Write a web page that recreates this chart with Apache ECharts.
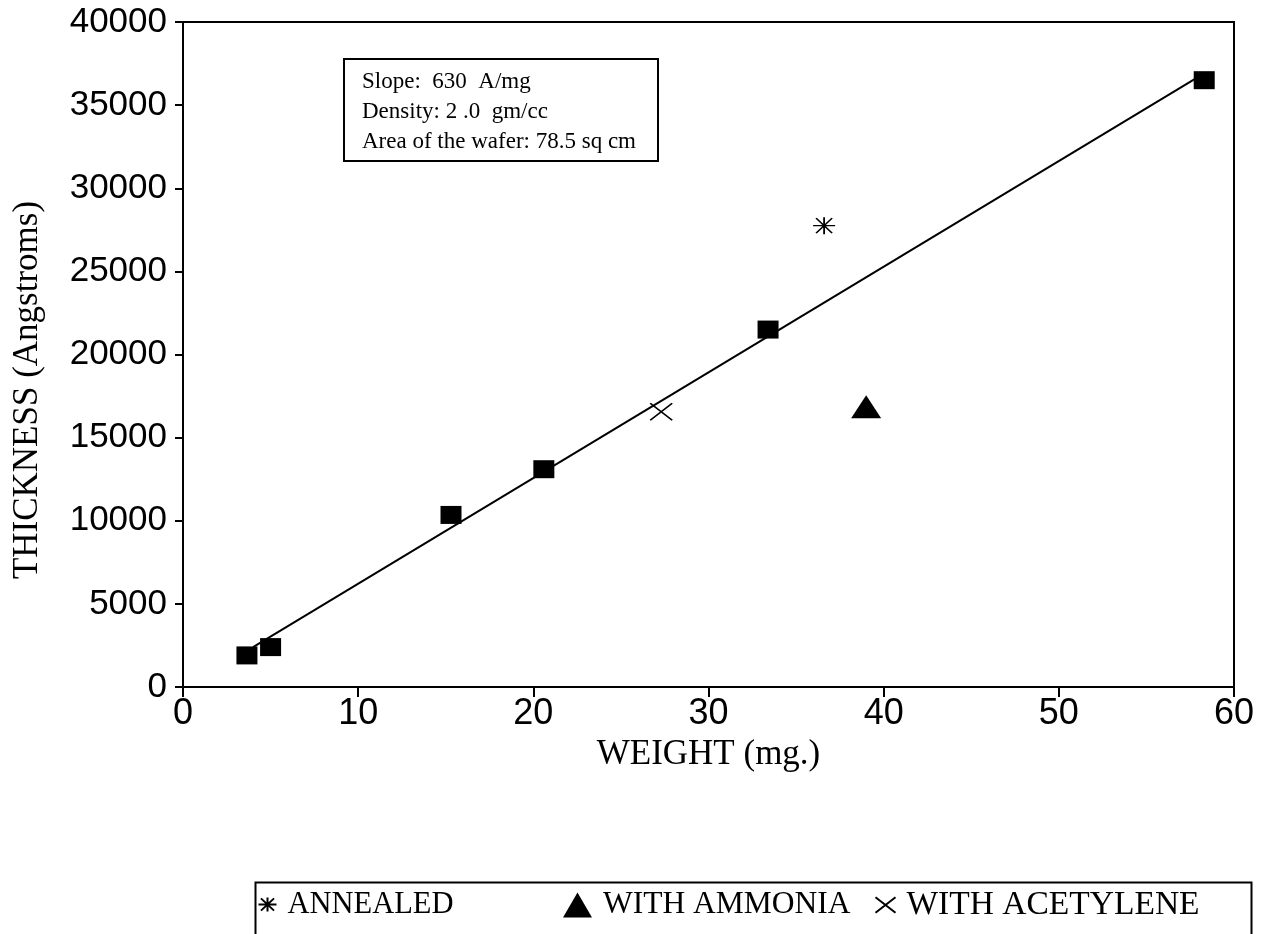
<!DOCTYPE html>
<html><head><meta charset="utf-8">
<script src="https://cdn.jsdelivr.net/npm/echarts@6/dist/echarts.min.js"></script>
<style>html,body{margin:0;padding:0;background:#fff}#c{width:1264px;height:934px}</style>
</head><body><div id="c"></div>
<script>
// ---- data ----
const squareWeight = [3.65, 5.0, 15.3, 20.6, 33.4, 58.3];
const squareThickness = [1900, 2400, 10350, 13100, 21500, 36500];
const fitWeight = [4.0, 57.8];
const fitThickness = [2400, 36600];
const annealedWeight = [36.6];
const annealedThickness = [27750];
const ammoniaWeight = [39.0];
const ammoniaThickness = [16860];
const acetyleneWeight = [27.3];
const acetyleneThickness = [16550];
const seriesNames = ['ANNEALED', 'WITH AMMONIA', 'WITH ACETYLENE'];
const annotationLines = ['Slope:  630  A/mg', 'Density: 2 .0  gm/cc', 'Area of the wafer: 78.5 sq cm'];
const xTitle = 'WEIGHT (mg.)';
const yTitle = 'THICKNESS (Angstroms)';

const pairs = (xs, ys) => xs.map((x, i) => [x, ys[i]]);
const SERIF = 'Liberation Serif';
const SANS = 'Liberation Sans';
const asteriskPath = 'path://M0,8.5 L22,8.5 M11,0 L11,17 M3,1 L19,16 M19,1 L3,16';
const crossPath = 'path://M0,0 L22,17 M22,0 L0,17';
const strokeStyle = { color: 'none', borderColor: '#000', borderWidth: 1.6, opacity: 1 };
const fillStyle = { color: '#000', opacity: 1 };

const chart = echarts.init(document.getElementById('c'), null, { renderer: 'canvas' });
const legendText = (size) => ({ fontFamily: SERIF, fontSize: size, color: '#000', padding: [0, 0, 0, 6] });
chart.setOption({
  animation: false,
  backgroundColor: '#fff',
  grid: { left: 183, right: 30, top: 22, bottom: 247, show: true, borderColor: '#000', borderWidth: 2, backgroundColor: 'transparent' },
  xAxis: {
    type: 'value', min: 0, max: 60, interval: 10,
    axisLine: { lineStyle: { color: '#000', width: 2 } },
    axisTick: { show: true, length: 10, lineStyle: { color: '#000', width: 2 } },
    axisLabel: { fontFamily: SANS, fontSize: 36, color: '#000', margin: 9 },
    splitLine: { show: false },
    name: xTitle, nameLocation: 'middle', nameGap: 46,
    nameTextStyle: { fontFamily: SERIF, fontSize: 35, color: '#000' }
  },
  yAxis: {
    type: 'value', min: 0, max: 40000, interval: 5000,
    axisLine: { show: true, lineStyle: { color: '#000', width: 2 } },
    axisTick: { show: true, length: 8, lineStyle: { color: '#000', width: 2 } },
    axisLabel: { fontFamily: SANS, fontSize: 35, color: '#000', margin: 16, formatter: v => String(v) },
    splitLine: { show: false }
  },
  legend: [
    { data: [seriesNames[0]], left: 256, top: 889, padding: 0, itemWidth: 18, itemHeight: 15, selectedMode: false, textStyle: legendText(30.5) },
    { data: [seriesNames[1]], left: 563, top: 889, padding: 0, itemWidth: 29, itemHeight: 25, selectedMode: false, textStyle: legendText(31.5) },
    { data: [seriesNames[2]], left: 873, top: 888, padding: 0, itemWidth: 20, itemHeight: 16, selectedMode: false, textStyle: legendText(33.5) }
  ],
  graphic: [
    { type: 'rect', left: 253, top: 880, shape: { width: 996, height: 53 }, style: { fill: 'none', stroke: '#000', lineWidth: 2 }, z: -1 },
    { type: 'rect', left: 343, top: 58, shape: { width: 314, height: 102 }, style: { fill: '#fff', stroke: '#000', lineWidth: 2 }, z: 10 },
    ...annotationLines.map((t, i) => ({ type: 'text', x: 362, y: 82 + i * 30, z: 11,
      style: { text: t, fontFamily: SERIF, fontSize: 23, fill: '#000', textVerticalAlign: 'middle' } })),
    { type: 'text', x: 28, y: 390, rotation: Math.PI / 2,
      style: { text: yTitle, fontFamily: SERIF, fontSize: 35, fill: '#000', textAlign: 'center', textVerticalAlign: 'middle' } }
  ],
  series: [
    { type: 'line', data: pairs(fitWeight, fitThickness), symbol: 'none', lineStyle: { color: '#000', width: 2, opacity: 1 }, z: 2 },
    { type: 'scatter', data: pairs(squareWeight, squareThickness), symbol: 'rect', symbolSize: [21, 18], itemStyle: fillStyle, z: 3 },
    { name: seriesNames[0], type: 'scatter', data: pairs(annealedWeight, annealedThickness), symbol: asteriskPath, symbolSize: [22, 17], itemStyle: strokeStyle, z: 3 },
    { name: seriesNames[1], type: 'scatter', data: pairs(ammoniaWeight, ammoniaThickness), symbol: 'triangle', symbolSize: [30, 23], itemStyle: fillStyle, z: 3 },
    { name: seriesNames[2], type: 'scatter', data: pairs(acetyleneWeight, acetyleneThickness), symbol: crossPath, symbolSize: [22, 17], itemStyle: strokeStyle, z: 3 }
  ]
});
</script></body></html>
